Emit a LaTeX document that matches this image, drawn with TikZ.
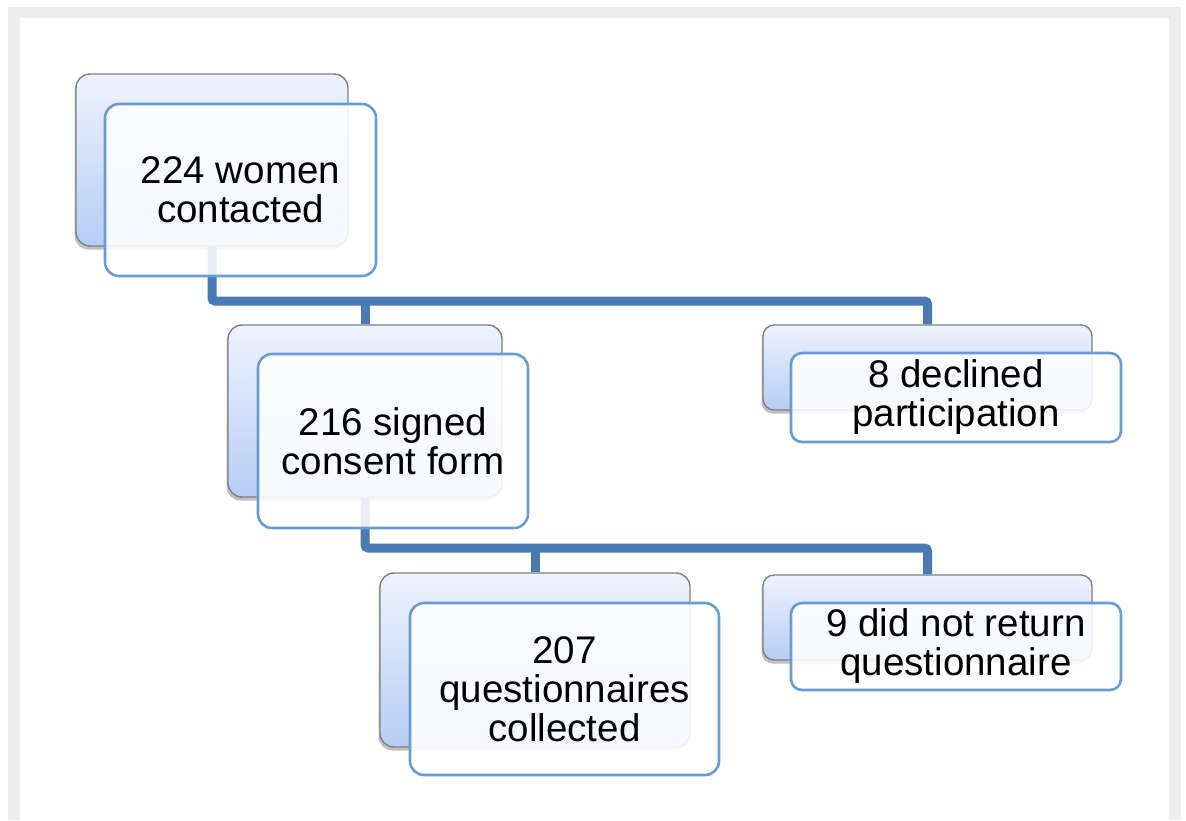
\documentclass[tikz,border=0pt]{standalone}
\usepackage{fontspec}
\setmainfont{Liberation Sans}
\usetikzlibrary{shadows}
\pgfdeclarelayer{framelayer}
\pgfdeclarelayer{connlayer}
\pgfsetlayers{framelayer,connlayer,main}
\definecolor{framegray}{HTML}{EDEDED}
\definecolor{connblue}{HTML}{4A7AB2}
\definecolor{frontblue}{HTML}{6A9CD2}
\definecolor{backtop}{HTML}{EEF3FD}
\definecolor{backbot}{HTML}{B6CDF5}
\definecolor{backline}{HTML}{7F7F7F}
\tikzset{
  conn/.style={draw=connblue, line width=9pt, rounded corners=3pt},
  backbox/.style={rectangle, rounded corners=14pt, draw=backline, line width=1.4pt,
    top color=backtop, bottom color=backbot, inner sep=0pt,
    drop shadow={shadow xshift=-1.5pt, shadow yshift=-3.5pt, opacity=0.35, fill=black!70}},
  frontbox/.style={rectangle, rounded corners=14pt, draw=frontblue, line width=2.6pt,
    fill=white, fill opacity=0.88, draw opacity=1, text opacity=1, inner sep=0pt,
    align=center, font=\fontsize{38.5}{39}\selectfont, text=black},
  smallback/.style={backbox, rounded corners=11pt},
  smallfront/.style={frontbox, rounded corners=11pt}
}
\begin{document}
\begin{tikzpicture}[x=1pt, y=-1pt]
\useasboundingbox (0,0) rectangle (1186,820);
\begin{pgfonlayer}{framelayer}
\fill[framegray] (8,7) rectangle (1181,820);
\fill[white] (20,18) rectangle (1169,820);
\end{pgfonlayer}

% back boxes
\node[backbox, minimum width=272pt, minimum height=172pt] (b1b) at (212,160) {};
\node[backbox, minimum width=274pt, minimum height=172pt] (b2b) at (365,411) {};
\node[smallback, minimum width=329pt, minimum height=85pt] (b3b) at (927.5,367.5) {};
\node[backbox, minimum width=310pt, minimum height=174pt] (b4b) at (535,660) {};
\node[smallback, minimum width=329pt, minimum height=85pt] (b5b) at (927.5,617.5) {};

% connectors (behind the boxes)
\coordinate (j1) at (0,301);
\coordinate (j2) at (0,548);
\begin{pgfonlayer}{connlayer}
\draw[conn] (b1b.south) |- (b3b.north |- j1) -- (b3b.north);
\draw[conn] (b2b.north |- j1) -- (b2b.north);
\draw[conn] (b2b.south) |- (b5b.north |- j2) -- (b5b.north);
\draw[conn] (b4b.north |- j2) -- (b4b.north);
\end{pgfonlayer}

% front boxes
\node[frontbox, minimum width=271pt, minimum height=172pt] (b1f) at (240.5,190) {224 women\\contacted};
\node[frontbox, minimum width=270pt, minimum height=174pt] (b2f) at (393,441) {216 signed\\consent form};
\node[smallfront, minimum width=330pt, minimum height=89pt] (b3f) at (956,397.5) {8 declined\\participation};
\node[frontbox, minimum width=309pt, minimum height=172pt] (b4f) at (564.5,689) {207\\questionnaires\\collected};
\node[smallfront, minimum width=330pt, minimum height=87pt] (b5f) at (956,646.5) {9 did not return\\questionnaire};
\end{tikzpicture}
\end{document}
